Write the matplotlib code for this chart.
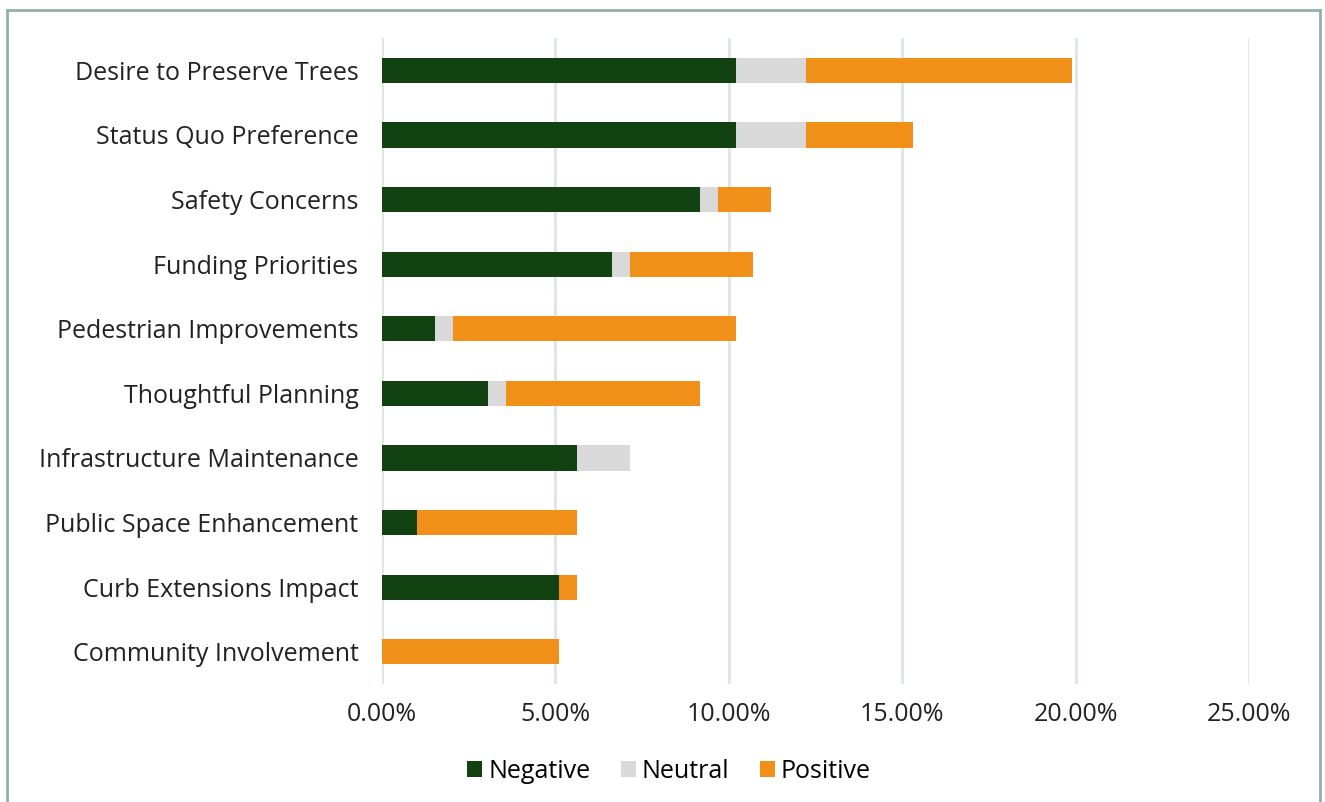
import numpy as np
import matplotlib.pyplot as plt
from matplotlib.lines import Line2D
from matplotlib.ticker import FuncFormatter

plt.rcParams['font.family'] = ['Open Sans', 'DejaVu Sans']

# Share of responses (%) by theme
categories = ["Desire to Preserve Trees", "Status Quo Preference", "Safety Concerns",
              "Funding Priorities", "Pedestrian Improvements", "Thoughtful Planning",
              "Infrastructure Maintenance", "Public Space Enhancement",
              "Curb Extensions Impact", "Community Involvement"]
negative = [10.20, 10.20, 9.18, 6.63, 1.53, 3.06, 5.61, 1.02, 5.10, 0.00]
neutral = [2.04, 2.04, 0.51, 0.51, 0.51, 0.51, 1.53, 0.00, 0.00, 0.00]
positive = [7.65, 3.06, 1.53, 3.57, 8.16, 5.61, 0.00, 4.59, 0.51, 5.10]

c_neg = "#124212"
c_neu = "#d9d9d9"
c_pos = "#f09018"

fig = plt.figure(figsize=(13.25, 8.02), dpi=100)
ax = fig.add_axes([0.2883, 0.1471, 0.6543, 0.8055])

y = np.arange(len(categories))
neg = np.array(negative)
neu = np.array(neutral)
pos = np.array(positive)
h = 0.39
ax.barh(y, neg, height=h, color=c_neg, label="Negative", zorder=3)
ax.barh(y, neu, left=neg, height=h, color=c_neu, label="Neutral", zorder=3)
ax.barh(y, pos, left=neg + neu, height=h, color=c_pos, label="Positive", zorder=3)

ax.set_ylim(len(categories) - 0.5, -0.5)
ax.set_xlim(0, 25)
ax.set_xticks([0, 5, 10, 15, 20, 25])
ax.xaxis.set_major_formatter(FuncFormatter(lambda v, p: f"{v:.2f}%"))
ax.set_yticks(y)
ax.set_yticklabels(categories)
ax.tick_params(axis='both', length=0, labelsize=18, colors="#222222")
ax.tick_params(axis='x', pad=13)
ax.tick_params(axis='y', pad=17)
ax.grid(axis='x', color="#dce6e2", linewidth=2, zorder=0)
for s in ax.spines.values():
    s.set_visible(False)

fig.legend(loc='center', bbox_to_anchor=(0.505, 0.038), ncol=3, frameon=False,
           fontsize=18, handlelength=0.6, handleheight=0.6, handletextpad=0.25,
           columnspacing=1.2)

# frame around the chart (left, top, right)
bc = "#8fb3a6"
fig.add_artist(Line2D([0.0055, 0.0055], [0, 0.988], color=bc, lw=2))
fig.add_artist(Line2D([0.0055, 0.9965], [0.988, 0.988], color=bc, lw=2))
fig.add_artist(Line2D([0.9965, 0.9965], [0, 0.988], color=bc, lw=2))

fig.savefig("out.png", dpi=100)
